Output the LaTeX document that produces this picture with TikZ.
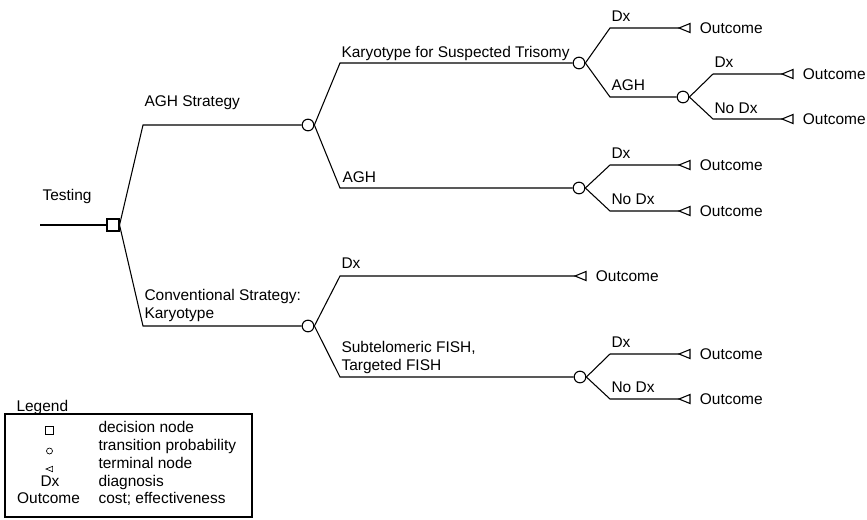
\documentclass[tikz,border=0pt]{standalone}
\usepackage{fontspec}
\setmainfont{Liberation Sans}
\usepackage{tikz}

\tikzset{
  chance/.style={circle,draw,fill=white,minimum size=8.75pt,inner sep=0pt},
  decision/.style={rectangle,draw,fill=white,minimum size=9pt,inner sep=0pt},
  lbl/.style={inner sep=0.75pt,font=\fontsize{11.6}{13}\selectfont},
  terminal/.pic={\draw (0,0) -- (11,-4.5) -- (11,4.5) -- cycle;}
}

\begin{document}
\begin{tikzpicture}[x=0.75pt,y=0.75pt,yscale=-1,xscale=1,line width=0.8pt]
\useasboundingbox (0,0) rectangle (867,519);
% Nodes of the tree
\coordinate (start) at (40,225);
\node [decision] (dec) at (113,225) {};
\coordinate (agh) at (143,125);
\coordinate (conv) at (143,326);
\node [chance] (cagh) at (308,125) {};
\node [chance] (cconv) at (308,326) {};
\coordinate (kary) at (340,63);
\coordinate (aghb) at (340,188);
\node [chance] (ckary) at (579,63) {};
\node [chance] (cagh2) at (579,188) {};
\coordinate (kdx) at (610,28);
\coordinate (tkdx) at (679,28);
\coordinate (kagh) at (610,97);
\node [chance] (ckagh) at (683,97) {};
\coordinate (kadx) at (713,74);
\coordinate (tkadx) at (782,74);
\coordinate (kanodx) at (713,119);
\coordinate (tkanodx) at (782,119);
\coordinate (adx) at (610,165);
\coordinate (tadx) at (679,165);
\coordinate (anodx) at (610,211);
\coordinate (tanodx) at (679,211);
\coordinate (cdx) at (340,276);
\coordinate (tcdx) at (575,276);
\coordinate (fish) at (340,377);
\node [chance] (cfish) at (580,377) {};
\coordinate (fdx) at (610,354);
\coordinate (tfdx) at (679,354);
\coordinate (fnodx) at (610,399);
\coordinate (tfnodx) at (679,399);

%Straight Lines
\draw (start) -- (dec.west);
\draw (dec.east) -- (agh) -- (cagh.west);
\draw (dec.east) -- (conv) -- (cconv.west);
%Straight Lines
\draw (cagh.east) -- (kary) -- (ckary.west);
\draw (cagh.east) -- (aghb) -- (cagh2.west);
\draw (ckary.east) -- (kdx) -- (tkdx);
\draw (ckary.east) -- (kagh) -- (ckagh.west);
\draw (ckagh.east) -- (kadx) -- (tkadx);
\draw (ckagh.east) -- (kanodx) -- (tkanodx);
\draw (cagh2.east) -- (adx) -- (tadx);
\draw (cagh2.east) -- (anodx) -- (tanodx);
%Straight Lines
\draw (cconv.east) -- (cdx) -- (tcdx);
\draw (cconv.east) -- (fish) -- (cfish.west);
\draw (cfish.east) -- (fdx) -- (tfdx);
\draw (cfish.east) -- (fnodx) -- (tfnodx);

%Shape: Terminals
\pic at (tkdx) {terminal};
\pic at (tkadx) {terminal};
\pic at (tkanodx) {terminal};
\pic at (tadx) {terminal};
\pic at (tanodx) {terminal};
\pic at (tcdx) {terminal};
\pic at (tfdx) {terminal};
\pic at (tfnodx) {terminal};

% Text Node
\node [lbl,anchor=base west] (ltest) at (41,200) {Testing};
% Text Node
\node [lbl,anchor=base west] (lagh) at (143,106) {AGH Strategy};
% Text Node
\node [lbl,anchor=base west] (lconv) at (143,318) [align=left] {Conventional Strategy:\\Karyotype};
% Text Node
\node [lbl,anchor=base west] (lkary) at (340,57) {Karyotype for Suspected Trisomy};
% Text Node
\node [lbl,anchor=base west] (laghb) at (341,182) {AGH};
% Text Node
\node [lbl,anchor=base west] (lcdx) at (340,268) {Dx};
% Text Node
\node [lbl,anchor=base west] (lfish) at (340,370) [align=left] {Subtelomeric FISH,\\Targeted FISH};
% Text Node
\node [lbl,anchor=base west] (lkdx) at (610,21) {Dx};
% Text Node
\node [lbl,anchor=base west] (lkagh) at (610,90) {AGH};
% Text Node
\node [lbl,anchor=base west] (lkadx) at (713,67) {Dx};
% Text Node
\node [lbl,anchor=base west] (lkanodx) at (713,113) {No Dx};
% Text Node
\node [lbl,anchor=base west] (ladx) at (610,158) {Dx};
% Text Node
\node [lbl,anchor=base west] (lanodx) at (610,204) {No Dx};
% Text Node
\node [lbl,anchor=base west] (lfdx) at (610,347) {Dx};
% Text Node
\node [lbl,anchor=base west] (lfnodx) at (610,392) {No Dx};

% Outcomes
\node [lbl,anchor=west] (okdx) at ([xshift=14.5pt]tkdx) {Outcome};
\node [lbl,anchor=west] (okadx) at ([xshift=14.5pt]tkadx) {Outcome};
\node [lbl,anchor=west] (okanodx) at ([xshift=14.5pt]tkanodx) {Outcome};
\node [lbl,anchor=west] (oadx) at ([xshift=14.5pt]tadx) {Outcome};
\node [lbl,anchor=west] (oanodx) at ([xshift=14.5pt]tanodx) {Outcome};
\node [lbl,anchor=west] (ocdx) at ([xshift=14.5pt]tcdx) {Outcome};
\node [lbl,anchor=west] (ofdx) at ([xshift=14.5pt]tfdx) {Outcome};
\node [lbl,anchor=west] (ofnodx) at ([xshift=14.5pt]tfnodx) {Outcome};

% Legend
\node [lbl,anchor=base west] (leg) at (15,411) {Legend};
\draw (5,414) rectangle (252,517);
\node [decision,minimum size=6pt,line width=0.5pt] (lgdec) at (49,430) {};
\node [chance,minimum size=4.5pt,line width=0.5pt] (lgch) at (49.5,451) {};
\pic [scale=0.6,line width=0.5pt] at (46,469) {terminal};
\node [lbl,anchor=base] (lgdx) at (50,486) {Dx};
\node [lbl,anchor=base] (lgout) at (48.5,503) {Outcome};
\node [lbl,anchor=base west] (lgt1) at (97,432) {decision node};
\node [lbl,anchor=base west] (lgt2) at (97,450) {transition probability};
\node [lbl,anchor=base west] (lgt3) at (97,468) {terminal node};
\node [lbl,anchor=base west] (lgt4) at (97,486) {diagnosis};
\node [lbl,anchor=base west] (lgt5) at (97,503) {cost; effectiveness};
\end{tikzpicture}
\end{document}
